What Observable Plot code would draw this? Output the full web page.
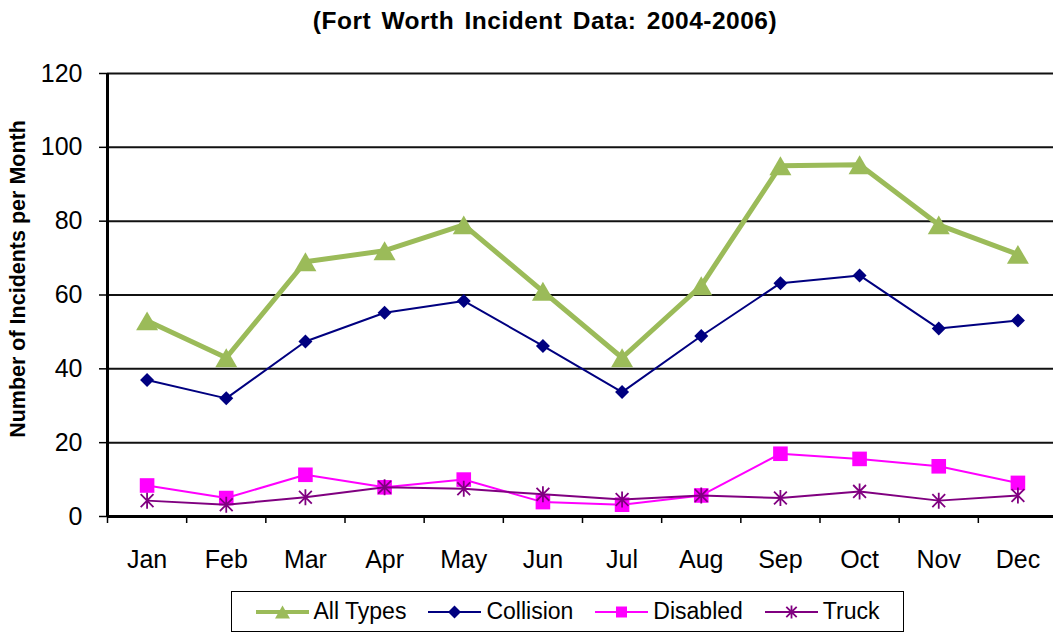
<!DOCTYPE html>
<html>
<head>
<meta charset="utf-8">
<script src="https://cdn.jsdelivr.net/npm/d3@7"></script>
<script src="https://cdn.jsdelivr.net/npm/@observablehq/plot@0.6"></script>
<style>
  html, body { margin: 0; padding: 0; background: #fff; }
  #wrap { position: relative; width: 1053px; height: 633px; overflow: hidden; font-family: "Liberation Sans", Arial, sans-serif; }
  #title { position: absolute; left: 0; width: 1090px; top: 9px; text-align: center; font-weight: bold; font-size: 24.5px; line-height: 24px; letter-spacing: 0.5px; word-spacing: 3px; color: #000; }
  #legend { position: absolute; left: 231px; top: 591px; width: 671px; height: 39px; border: 1px solid #000; display: flex; align-items: center; justify-content: center; gap: 22px; background: #fff; }
  .item { display: flex; align-items: center; font-size: 23px; color: #000; }
  .item svg { margin-right: 5px; }
  #chart { position: absolute; left: 0; top: 0; }
</style>
</head>
<body>
<div id="wrap">
  <div id="chart"></div>
  <div id="title">(Fort Worth Incident Data: 2004-2006)</div>
  <div id="legend"></div>
</div>
<script>
const months = ["Jan","Feb","Mar","Apr","May","Jun","Jul","Aug","Sep","Oct","Nov","Dec"];
const allTypes  = [53, 43, 69, 72, 79, 61, 43, 62.5, 95, 95.3, 79, 71];
const collision = [37, 32, 47.4, 55.2, 58.4, 46.2, 33.7, 48.9, 63.2, 65.3, 50.9, 53.1];
const disabled  = [8.4, 5, 11.3, 7.9, 10, 3.9, 3.2, 5.7, 17, 15.6, 13.6, 9.1];
const truck     = [4.3, 3.2, 5.2, 7.9, 7.5, 6, 4.6, 5.7, 5, 6.8, 4.3, 5.7];
const yTicks = [0, 20, 40, 60, 80, 100, 120];
const yLabel = "Number of Incidents per Month";

// custom marker shapes (size = PI*r^2, r = half extent)
const half = s => Math.sqrt(s / Math.PI);
const symTriangle = {draw(c, s) { const r = half(s), h = r * 0.86; c.moveTo(0, -h); c.lineTo(r, h); c.lineTo(-r, h); c.closePath(); }};
const symDiamond  = {draw(c, s) { const r = half(s); c.moveTo(0, -r); c.lineTo(r, 0); c.lineTo(0, r); c.lineTo(-r, 0); c.closePath(); }};
const symSquare   = {draw(c, s) { const r = half(s); c.rect(-r, -r, 2 * r, 2 * r); }};
const symStar     = {draw(c, s) { const r = half(s), d = r * 0.8; c.moveTo(-d, -d); c.lineTo(d, d); c.moveTo(d, -d); c.lineTo(-d, d); c.moveTo(0, -r); c.lineTo(0, r); }};

const series = [
  {name: "All Types", values: allTypes,  color: "#9BBB59", width: 5,   sym: symTriangle, r: 11,   filled: true,  lr: 7.5},
  {name: "Collision", values: collision, color: "#000080", width: 2,   sym: symDiamond,  r: 7,    filled: true,  lr: 6.5},
  {name: "Disabled",  values: disabled,  color: "#FF00FF", width: 2,   sym: symSquare,   r: 7.3,  filled: true,  lr: 5.5},
  {name: "Truck",     values: truck,     color: "#800080", width: 2,   sym: symStar,     r: 8,    filled: false, lr: 6.5}
];

const seriesMarks = series.flatMap(s => {
  const rows = months.map((m, i) => ({x: i + 0.5, v: s.values[i]}));
  return [
    Plot.line(rows, {x: "x", y: "v", stroke: s.color, strokeWidth: s.width, strokeLinejoin: "miter"}),
    Plot.dot(rows, {x: "x", y: "v", symbol: s.sym, r: s.r,
      fill: s.filled ? s.color : "none", stroke: s.filled ? "none" : s.color, strokeWidth: 1.8})
  ];
});

const chart = Plot.plot({
  width: 1053, height: 633,
  marginLeft: 107, marginRight: 0, marginTop: 73, marginBottom: 117,
  style: {fontFamily: "Liberation Sans, Arial, sans-serif", background: "transparent", color: "#000", overflow: "visible"},
  x: {domain: [0, 12], range: [107, 1057], label: null},
  y: {domain: [0, 120], label: null},
  marks: [
    Plot.ruleY(yTicks.filter(d => d > 0), {stroke: "#111", strokeWidth: 2}),
    Plot.axisY(yTicks, {tickSize: 8, tickPadding: 17, fontSize: 25, strokeWidth: 1.5, tickFormat: d => String(d), label: null}),
    Plot.axisX(d3.range(13), {tickSize: 7, tickFormat: () => "", strokeWidth: 1.5, label: null}),
    Plot.axisX(months.map((m, i) => i + 0.5), {tickSize: 0, tickPadding: 34, fontSize: 25, tickFormat: d => months[Math.floor(d)], label: null}),
    Plot.ruleX([0], {y1: 0, y2: 120, stroke: "#000", strokeWidth: 3}),
    Plot.ruleY([0], {stroke: "#000", strokeWidth: 3}),
    ...seriesMarks,
    Plot.text([yLabel], {text: d => d, frameAnchor: "left", textAnchor: "middle", rotate: -90, dx: -89, dy: -16, fontSize: 21.5, fontWeight: "bold", fill: "#000"})
  ]
});
document.getElementById("chart").appendChild(chart);

// legend
const legend = d3.select("#legend");
for (const s of series) {
  const item = legend.append("div").attr("class", "item");
  const svg = item.append("svg").attr("width", 53).attr("height", 20);
  svg.append("line").attr("x1", 0).attr("x2", 53).attr("y1", 10).attr("y2", 10)
    .attr("stroke", s.color).attr("stroke-width", s.width === 5 ? 4 : 2);
  svg.append("path").attr("transform", "translate(26.5,10)")
    .attr("d", d3.symbol(s.sym, Math.PI * s.lr * s.lr)())
    .attr("fill", s.filled ? s.color : "none")
    .attr("stroke", s.filled ? "none" : s.color).attr("stroke-width", 1.8);
  item.append("span").text(s.name);
}
</script>
</body>
</html>
